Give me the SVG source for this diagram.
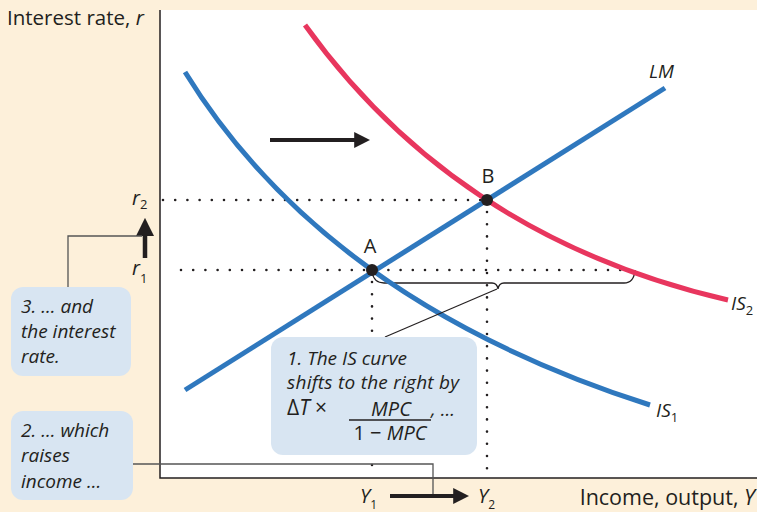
<svg xmlns="http://www.w3.org/2000/svg" width="757" height="512" viewBox="0 0 757 512">
<style>
text{font-family:"Open Sans","Noto Sans",sans-serif;fill:#231f20}
.it{font-style:italic}
.dot{stroke:#231f20;stroke-width:2.6;stroke-linecap:round;stroke-dasharray:0 12.2;fill:none}
.box{fill:#d8e5f2}
.lead{stroke:#555;stroke-width:1.3;fill:none}
.curve{fill:none;stroke-width:5}
.bt{font-size:19px;font-style:italic}
</style>
<defs>
<marker id="ah" markerWidth="4" markerHeight="4" refX="2.2" refY="2" orient="auto" markerUnits="strokeWidth"><path d="M0,0 L4,2 L0,4 Z" fill="#231f20"/></marker>
</defs>
<rect width="757" height="512" fill="#fdf0da"/>
<rect x="160" y="10" width="597" height="468" fill="#fff"/>
<g id="axes" stroke="#231f20" stroke-width="1.5" fill="none">
<path d="M160,10 V478 H757"/>
</g>
<g id="guides">
<path class="dot" d="M163,200 H487"/>
<path class="dot" d="M181,270 H632"/>
<path class="dot" d="M372,282 V476"/>
<path class="dot" d="M487,212 V476"/>
<path d="M372,272 q2,11 12,11 H492 q5,0 6,6 q1,-6 6,-6 H624 q10,0 11,-13" fill="none" stroke="#231f20" stroke-width="1.3"/>
</g>
<g id="curves">
<path id="IS2" class="curve" stroke="#e8365e" d="M305,25 Q457.5,237.5 728,300"/>
<path id="IS1" class="curve" stroke="#2f78be" d="M185,72 Q326.5,301.5 650,405"/>
<path id="LM" class="curve" stroke="#2f78be" d="M185,390 L665,88"/>
</g>
<g id="points">
<circle cx="372" cy="270" r="6" fill="#231f20"/>
<circle cx="487" cy="200" r="6" fill="#231f20"/>
<text x="370" y="253" font-size="20" text-anchor="middle">A</text>
<text x="488" y="183" font-size="20" text-anchor="middle">B</text>
</g>
<g id="labels">
<text x="7" y="25" font-size="20.5">Interest rate, <tspan class="it">r</tspan></text>
<text x="755" y="505" font-size="21.5" text-anchor="end">Income, output, <tspan class="it">Y</tspan></text>
<text x="649" y="78" font-size="19" class="it">LM</text>
<text x="731" y="310" font-size="19" class="it">IS<tspan font-size="13" dy="5" font-style="normal">2</tspan></text>
<text x="656" y="417" font-size="19" class="it">IS<tspan font-size="13" dy="5" font-style="normal">1</tspan></text>
<text x="132" y="205" font-size="20" class="it">r<tspan font-size="13" dy="4" font-style="normal">2</tspan></text>
<text x="132" y="275" font-size="20" class="it">r<tspan font-size="13" dy="8" font-style="normal">1</tspan></text>
<text x="360" y="503" font-size="20" class="it">Y<tspan font-size="12" dy="6" font-style="normal">1</tspan></text>
<text x="478" y="503" font-size="20" class="it">Y<tspan font-size="12" dy="6" font-style="normal">2</tspan></text>
</g>
<g id="connectors">
<path d="M270,140 H363" stroke="#231f20" stroke-width="4" marker-end="url(#ah)" fill="none"/>
<path d="M145,258 V226" stroke="#231f20" stroke-width="4.5" marker-end="url(#ah)" fill="none"/>
<path d="M390,496 H462" stroke="#231f20" stroke-width="4" marker-end="url(#ah)" fill="none"/>
<path class="lead" d="M68,287 V236 H142"/>
<path class="lead" d="M133,464 H433 V494"/>
<path d="M497,289 L385,337" stroke="#231f20" stroke-width="1.2" fill="none"/>
</g>
<g id="box1">
<rect class="box" x="271" y="337" width="206" height="118" rx="12"/>
<text x="287" y="365" class="bt">1. The IS curve</text>
<text x="287" y="389" class="bt" textLength="172">shifts to the right by</text>
<text x="287" y="415" font-size="21">Δ<tspan class="it">T</tspan> ×</text>
<text x="391" y="416" font-size="20" font-style="italic" text-anchor="middle">MPC</text>
<path d="M349,420 H431" stroke="#231f20" stroke-width="1.3"/>
<text x="390" y="440" font-size="20" text-anchor="middle">1 − <tspan class="it">MPC</tspan></text>
<text x="431" y="416" class="bt">, ...</text>
</g>
<g id="box2">
<rect class="box" x="11" y="411" width="122" height="89" rx="12"/>
<text x="21" y="437" class="bt">2. ... which</text>
<text x="21" y="462" class="bt">raises</text>
<text x="21" y="488" class="bt">income ...</text>
</g>
<g id="box3">
<rect class="box" x="11" y="287" width="120" height="89" rx="12"/>
<text x="21" y="313" class="bt">3. ... and</text>
<text x="21" y="338" class="bt">the interest</text>
<text x="21" y="363" class="bt">rate.</text>
</g>
</svg>
